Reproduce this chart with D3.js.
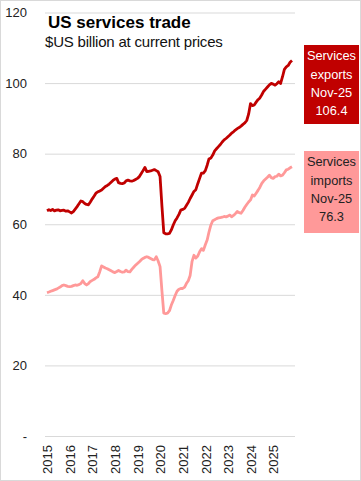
<!DOCTYPE html>
<html><head><meta charset="utf-8">
<script src="https://cdn.jsdelivr.net/npm/d3@7"></script>
<style>
html,body{margin:0;padding:0;background:#fff;}
svg{display:block;font-family:"Liberation Sans",Arial,sans-serif;}
</style></head>
<body>
<svg id="c" width="361" height="481"></svg>
<script>
const startYear = 2015, startMonth = 0;
const exports_ = [
  63.8,64.1,63.9,64.2,63.8,64.0,64.1,63.8,63.9,64.0,63.7,63.8,
  63.5,63.2,63.6,64.3,65.0,65.8,66.6,66.4,65.9,65.6,65.5,66.3,
  67.2,68.0,68.8,69.2,69.4,69.7,70.2,70.7,71.0,71.4,71.9,72.4,
  72.8,73.0,71.8,71.6,71.5,71.7,72.3,72.5,72.3,72.2,72.4,72.7,
  73.0,73.5,74.3,75.2,76.1,74.9,75.0,75.1,75.3,75.5,75.2,74.9,
  73.5,65.0,57.6,57.3,57.3,57.4,58.4,59.8,61.0,61.8,62.8,64.0,
  64.2,64.5,65.3,66.2,67.3,68.3,69.3,69.8,71.5,73.0,74.5,74.5,
  75.2,76.8,78.5,78.8,79.6,80.8,81.4,82.0,82.6,83.3,83.9,84.3,
  84.8,85.3,85.8,86.2,86.7,87.1,87.4,87.8,88.3,88.7,89.4,91.2,
  94.2,93.6,93.8,94.6,95.3,95.8,96.7,97.7,98.3,98.9,99.5,99.9,
  99.7,99.4,99.8,100.4,99.9,101.8,103.9,104.6,105.0,105.9,106.4
];
const imports_ = [
  40.6,40.8,41.0,41.2,41.4,41.6,41.9,42.2,42.6,42.8,42.6,42.4,
  42.3,42.4,42.6,42.8,42.7,42.9,43.2,44.0,43.2,42.8,43.2,43.8,
  44.1,44.4,44.8,45.1,46.5,48.2,47.9,47.6,47.4,47.1,46.8,46.5,
  46.3,46.6,46.9,46.6,46.4,46.5,47.0,46.6,46.5,47.2,47.8,48.4,
  48.9,49.4,49.9,50.3,50.6,50.8,50.6,50.3,50.0,49.9,50.8,49.6,
  48.0,41.0,34.8,34.7,34.8,35.5,37.1,38.4,39.8,41.0,41.6,41.8,
  41.8,42.2,43.2,44.0,45.5,49.5,51.2,50.4,51.0,52.2,53.1,52.6,
  54.2,55.6,57.8,59.8,61.0,61.3,61.6,61.8,61.9,62.0,62.2,62.1,
  62.3,62.6,62.1,62.5,63.0,63.6,63.3,63.1,63.9,64.8,65.6,66.3,
  66.9,68.3,68.0,68.8,69.6,70.5,71.6,72.3,72.8,73.3,73.9,73.2,
  73.0,73.5,73.6,74.2,73.7,73.9,74.6,75.4,75.6,76.0,76.3
];
const yTicks = [0,20,40,60,80,100,120];
const yTickLabels = ["-","20","40","60","80","100","120"];
const xYears = [2015,2016,2017,2018,2019,2020,2021,2022,2023,2024,2025];
const seriesNames = ["Services exports","Services imports"];
const lastLabel = "Nov-25";
const title = "US services trade";
const subtitle = "$US billion at current prices";

const svg = d3.select("#c");
const W = 361, H = 481;
const colExp = "#C00000", colImp = "#FF9999";

svg.append("rect").attr("x",0.5).attr("y",0.5).attr("width",W-1).attr("height",H-1)
  .attr("fill","#fff").attr("stroke","#d9d9d9");

const dateOf = i => new Date(startYear, startMonth + i, 1);
const x = d3.scaleTime().domain([new Date(2015,0,1), new Date(2025,10,1)]).range([47, 292]);
const y = d3.scaleLinear().domain([0,120]).range([436, 12.5]);

// gridlines
const gridG = svg.append("g")
  .call(d3.axisLeft(y).tickValues(yTicks).tickSize(-250).tickFormat((d,i)=>yTickLabels[i]))
  .attr("transform","translate(45,0)");
gridG.select(".domain").remove();
gridG.selectAll(".tick line").attr("stroke","#d9d9d9").attr("stroke-width",1);
gridG.selectAll(".tick text").attr("x",-18).attr("fill","#222")
  .style("font-size","13px").style("font-family","'Liberation Sans',Arial,sans-serif");

// x axis labels
const xAx = svg.append("g").attr("transform","translate(0,436)")
  .call(d3.axisBottom(x).tickValues(xYears.map(yy=>new Date(yy,0,1))).tickSize(0).tickFormat(d3.timeFormat("%Y")));
xAx.select(".domain").remove();
xAx.selectAll(".tick text")
  .attr("transform","rotate(-90)")
  .attr("text-anchor","end").attr("x",-9).attr("y",0).attr("dy","0.36em")
  .attr("fill","#222").style("font-size","13px").style("font-family","'Liberation Sans',Arial,sans-serif");

const line = d3.line().x((d,i)=>x(dateOf(i))).y(d=>y(d)).curve(d3.curveLinear);
svg.append("path").datum(imports_).attr("d",line).attr("fill","none")
  .attr("stroke",colImp).attr("stroke-width",2.8).attr("stroke-linejoin","round");
svg.append("path").datum(exports_).attr("d",line).attr("fill","none")
  .attr("stroke",colExp).attr("stroke-width",2.8).attr("stroke-linejoin","round");

// title
svg.append("text").attr("x",48).attr("y",28).text(title)
  .style("font-weight","bold").style("font-size","17px").attr("fill","#000");
svg.append("text").attr("x",45).attr("y",47).text(subtitle)
  .style("font-size","15px").attr("fill","#111").style("letter-spacing","-0.2px");

// label boxes
function box(y0, y1, fill, tc, lines){
  svg.append("rect").attr("x",304).attr("y",y0).attr("width",55).attr("height",y1-y0).attr("fill",fill);
  const cy = [0,1,2,3].map(k=> y0 + 11 + k*18.2);
  lines.forEach((t,k)=>{
    svg.append("text").attr("x",331.5).attr("y",cy[k]).attr("dy","0.35em")
      .attr("text-anchor","middle").attr("fill",tc)
      .style("font-family","'Liberation Sans',Arial,sans-serif").style("font-size","12.8px")
      .text(t);
  });
}
const lastE = exports_[exports_.length-1], lastI = imports_[imports_.length-1];
box(45, 124, colExp, "#fff", ["Services","exports",lastLabel,lastE.toFixed(1)]);
box(151, 233, colImp, "#222", ["Services","imports",lastLabel,lastI.toFixed(1)]);
</script>
</body></html>
